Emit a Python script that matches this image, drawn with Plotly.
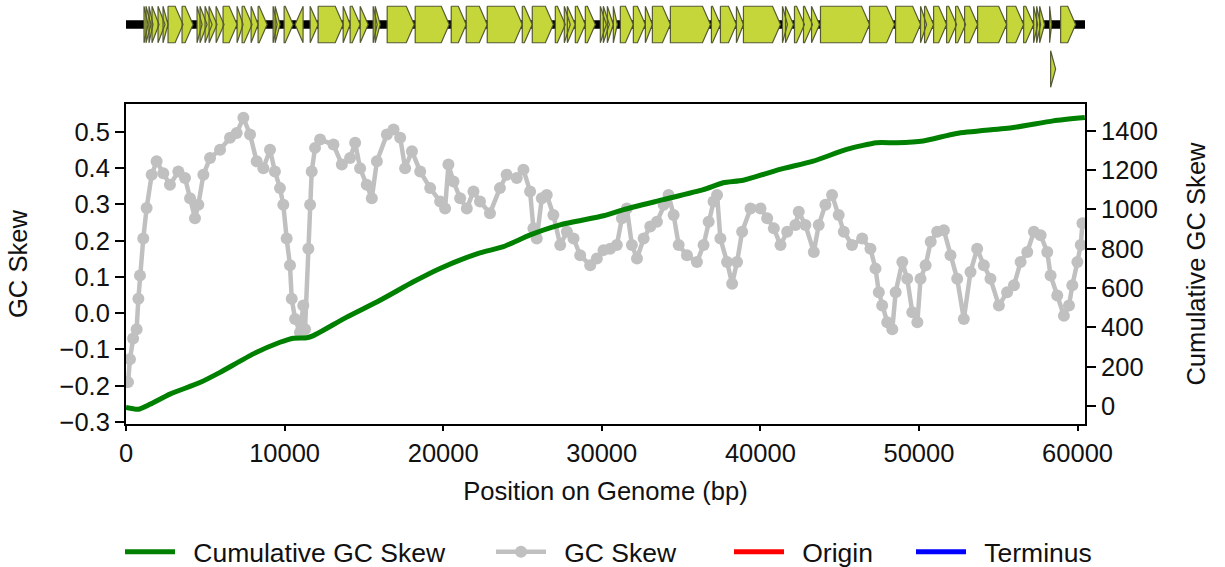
import plotly.graph_objects as go

# ---------------- data ----------------
GENOME_LENGTH = 60470

X_TICKS = [0, 10000, 20000, 30000, 40000, 50000, 60000]
GC_TICKS = [-0.3, -0.2, -0.1, 0.0, 0.1, 0.2, 0.3, 0.4, 0.5]
CUM_TICKS = [0, 200, 400, 600, 800, 1000, 1200, 1400]

GC_POS = [130, 250, 450, 670, 780, 880, 1090, 1300, 1620, 1930, 2350, 2770, 3300, 3720, 4040,
          4350, 4560, 4880, 5300, 5930, 6560, 6980, 7400, 7820, 8240, 8660, 9080, 9390, 9710,
          9920, 10130, 10340, 10450, 10660, 10970, 11180, 11290, 11500, 11610, 11710, 11920,
          12240, 13080, 13610, 14130, 14450, 14760, 15180, 15500, 15820, 16450, 16870, 17290,
          17600, 18030, 18550, 19180, 19810, 20120, 20330, 20650, 21070, 21490, 21910, 22320,
          22950, 23580, 24000, 24640, 25060, 25480, 25690, 25900, 26220, 26530, 26950, 27380,
          27800, 28220, 28640, 29270, 29690, 30110, 30530, 30950, 31270, 31580, 31900, 32220,
          32640, 33060, 33480, 33900, 34210, 34530, 34850, 35370, 36000, 36420, 36740, 37050,
          37270, 37480, 37900, 38220, 38530, 38850, 39380, 40010, 40430, 40850, 41270, 41690,
          42210, 42420, 42840, 43370, 43680, 44100, 44520, 44940, 45260, 45780, 46420, 46940,
          47260, 47470, 47680, 48000, 48320, 48530, 48950, 49260, 49580, 49900, 50100, 50420,
          50740, 51150, 51570, 51990, 52410, 52830, 53250, 53670, 54090, 54510, 55040, 55560,
          55990, 56410, 56830, 57250, 57670, 58090, 58300, 58720, 59140, 59460, 59670, 59990,
          60200, 60310]
GC_VAL = [-0.19, -0.127, -0.07, -0.044, 0.04, 0.104, 0.206, 0.29, 0.382, 0.419, 0.386, 0.354,
          0.391, 0.373, 0.317, 0.262, 0.299, 0.382, 0.428, 0.451, 0.484, 0.497, 0.539, 0.493,
          0.419, 0.40, 0.451, 0.391, 0.345, 0.299, 0.206, 0.132, 0.04, -0.016, -0.053, 0.021,
          -0.044, 0.178, 0.299, 0.391, 0.456, 0.479, 0.465, 0.41, 0.428, 0.47, 0.40, 0.354,
          0.317, 0.419, 0.493, 0.507, 0.484, 0.40, 0.447, 0.391, 0.345, 0.308, 0.289, 0.41,
          0.363, 0.317, 0.289, 0.336, 0.308, 0.276, 0.345, 0.382, 0.373, 0.396, 0.336, 0.234,
          0.206, 0.317, 0.326, 0.271, 0.188, 0.225, 0.206, 0.16, 0.132, 0.151, 0.174, 0.178,
          0.188, 0.262, 0.289, 0.188, 0.151, 0.206, 0.239, 0.252, 0.299, 0.326, 0.271, 0.188,
          0.16, 0.141, 0.188, 0.252, 0.308, 0.326, 0.206, 0.141, 0.081, 0.141, 0.225, 0.289,
          0.289, 0.262, 0.234, 0.188, 0.225, 0.243, 0.28, 0.243, 0.169, 0.243, 0.299, 0.326,
          0.271, 0.225, 0.188, 0.206, 0.178, 0.123, 0.058, 0.021, -0.025, -0.044, 0.058, 0.141,
          0.095, 0.003, -0.025, 0.095, 0.132, 0.197, 0.225, 0.229, 0.16, 0.095, -0.016, 0.114,
          0.178, 0.132, 0.095, 0.021, 0.058, 0.077, 0.141, 0.169, 0.225, 0.215, 0.169, 0.104,
          0.049, -0.007, 0.021, 0.077, 0.141, 0.188, 0.248]

CUM_POS = [0, 780, 1510, 2770, 4660, 5930, 8030, 9710, 10550, 11390, 11820, 13920, 16020,
           18120, 19800, 22220, 23800, 25490, 27380, 30110, 31370, 33880, 36400, 37660, 38920,
           41230, 43330, 45440, 47330, 48590, 50270, 52370, 55940, 58460, 60460]
CUM_VAL = [-8, -17, 8, 60, 119, 171, 265, 324, 345, 347, 358, 452, 538, 632, 700, 777, 811,
           871, 922, 968, 999, 1050, 1101, 1136, 1149, 1204, 1246, 1306, 1340, 1340, 1349, 1387,
           1417, 1451, 1468]

GENE_START = [1136, 1262, 1451, 1640, 2019, 2334, 2650, 3534, 4480, 4669, 4985, 5237, 5679,
              6121, 7004, 7320, 7888, 8329, 9276, 9402, 9970, 10664, 11610, 12115, 13693,
              14134, 14765, 15586, 15712, 16469, 18236, 20508, 21454, 22779, 24988, 25619,
              27070, 27638, 27827, 28332, 28963, 29909, 30099, 30351, 30729, 31171, 31992,
              32749, 33191, 34326, 36914, 37481, 38491, 38933, 41394, 41583, 42151, 42719,
              43224, 43791, 46883, 48524, 50101, 50354, 50922, 51742, 52310, 52878, 53698,
              55528, 56601, 57232, 57421, 57610, 58240, 58934, 58303]
GENE_END = [1388, 1577, 1703, 2082, 2461, 2650, 3597, 4228, 4796, 5111, 5427, 5742, 6184,
            7004, 7383, 7951, 8329, 8897, 9528, 9717, 10538, 11169, 12115, 13693, 14134,
            14765, 15270, 15838, 16027, 18173, 20381, 21454, 22779, 24988, 25619, 26944,
            27701, 28016, 28332, 28963, 29594, 30288, 30477, 30729, 30982, 31992, 32749,
            33191, 34326, 36850, 37481, 38491, 38933, 41267, 41709, 42088, 42782, 43287,
            43729, 46883, 48461, 50101, 50480, 50922, 51742, 52373, 52941, 53698, 55528,
            56601, 57232, 57484, 57673, 57925, 58366, 59880, 58618]
GENE_STRAND = [1] * 21 + [-1] + [1] * 55
GENE_ROW = [0] * 76 + [1]

LEGEND_NAMES = ["Cumulative GC Skew", "GC Skew", "Origin", "Terminus"]

# ---------------- styling ----------------
FONT = "Liberation Sans, Arial, sans-serif"
TICK_FS = 25.5
TITLE_FS = 25.6
LEG_FS = 26.5
TXT = "#111111"
HEAD_BP = 500
HALF_H = 0.41
PAD = "\u2002"

fig = go.Figure()

# gene track backbone
fig.add_trace(go.Scatter(x=[0, GENOME_LENGTH], y=[0, 0], mode="lines",
                         line=dict(color="black", width=8.5), xaxis="x2", yaxis="y3",
                         showlegend=False, hoverinfo="skip"))

gx, gy = [], []
for s, e, st, row in zip(GENE_START, GENE_END, GENE_STRAND, GENE_ROW):
    yc = -row
    hd = min(HEAD_BP, e - s)
    if st > 0:
        px = [s, e - hd, e, e - hd, s, s]
    else:
        px = [e, s + hd, s, s + hd, e, e]
    py = [yc + HALF_H, yc + HALF_H, yc, yc - HALF_H, yc - HALF_H, yc + HALF_H]
    gx += px + [None]
    gy += py + [None]
fig.add_trace(go.Scatter(x=gx, y=gy, mode="lines", fill="toself", fillcolor="#c4d63a",
                         line=dict(color="#555a35", width=1.2), xaxis="x2", yaxis="y3",
                         showlegend=False, hoverinfo="skip"))

# GC skew
fig.add_trace(go.Scatter(x=GC_POS, y=GC_VAL, mode="lines+markers", name=PAD + LEGEND_NAMES[1],
                         line=dict(color="#c0c0c0", width=4.5),
                         marker=dict(color="#c0c0c0", size=12),
                         xaxis="x", yaxis="y", legend="legend2"))
# cumulative
fig.add_trace(go.Scatter(x=CUM_POS, y=CUM_VAL, mode="lines", name=PAD + LEGEND_NAMES[0],
                         line=dict(color="#008000", width=5, shape="spline", smoothing=0.6),
                         xaxis="x", yaxis="y2", legend="legend"))
fig.add_trace(go.Scatter(x=[None], y=[None], mode="lines", name=PAD + LEGEND_NAMES[2],
                         line=dict(color="#ff0000", width=5), xaxis="x", yaxis="y",
                         legend="legend3"))
fig.add_trace(go.Scatter(x=[None], y=[None], mode="lines", name=PAD + LEGEND_NAMES[3],
                         line=dict(color="#0000ff", width=5), xaxis="x", yaxis="y",
                         legend="legend4"))

H_PLOT = 424.0
axis_common = dict(showline=True, linewidth=2, linecolor="black", ticks="outside",
                   tickwidth=2, tickcolor="black", showgrid=False, zeroline=False,
                   tickfont=dict(size=TICK_FS, family=FONT, color=TXT))
title_font = dict(size=TITLE_FS, family=FONT, color=TXT)


def leg(xpx):
    return dict(x=(xpx - 126) / 959.0, y=(H_PLOT - 552) / H_PLOT, xanchor="left",
                yanchor="middle", orientation="h", bgcolor="rgba(0,0,0,0)",
                font=dict(size=LEG_FS, family=FONT, color=TXT), itemwidth=50)


fig.update_layout(
    width=1225, height=567,
    margin=dict(l=126, r=140, t=0, b=143, autoexpand=False),
    paper_bgcolor="white", plot_bgcolor="white",
    font=dict(family=FONT, size=TICK_FS, color=TXT),
    xaxis=dict(domain=[0, 1], range=[0, GENOME_LENGTH], tickvals=X_TICKS, tickformat="d",
               ticklen=5, mirror=True, anchor="y",
               title=dict(text="Position on Genome (bp)", standoff=16, font=title_font),
               **axis_common),
    yaxis=dict(domain=[0, 320 / H_PLOT], range=[-0.3055, 0.577], tickvals=GC_TICKS,
               tickformat=".1f", ticklen=9, anchor="x",
               title=dict(text="GC Skew", standoff=25, font=title_font), **axis_common),
    yaxis2=dict(overlaying="y", side="right", range=[-92, 1537], tickvals=CUM_TICKS,
                ticklen=9, anchor="x",
                title=dict(text="Cumulative GC Skew", standoff=30, font=title_font),
                **axis_common),
    xaxis2=dict(domain=[0, 1], range=[0, GENOME_LENGTH], anchor="y3", visible=False),
    yaxis3=dict(domain=[1 - 95 / H_PLOT, 1], range=[-1.584, 0.5506], anchor="x2",
                visible=False),
    legend=leg(120), legend2=leg(491), legend3=leg(729), legend4=leg(911),
)

fig.write_html("out.html")
